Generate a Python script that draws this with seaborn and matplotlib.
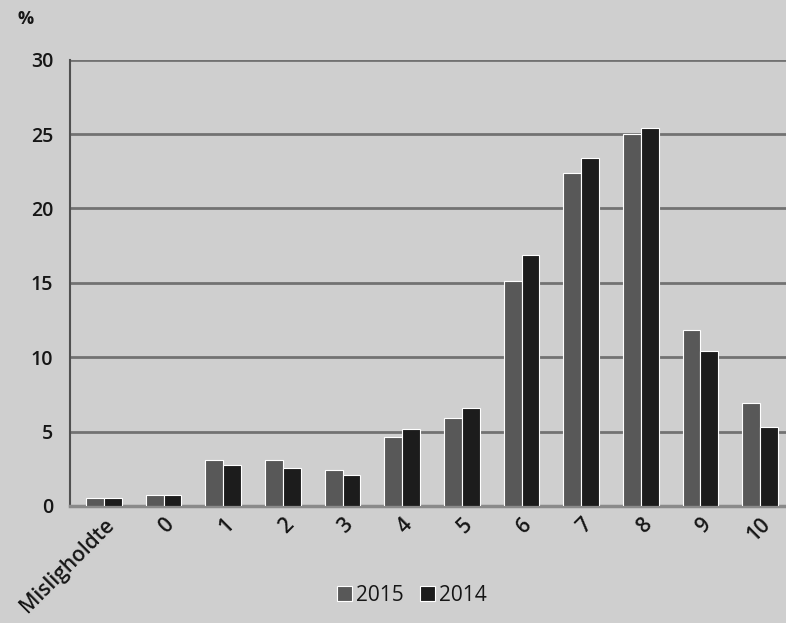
import pandas as pd
import matplotlib.pyplot as plt
import seaborn as sns

# --- DATA ---
categories = ['Misligholdte', '0', '1', '2', '3', '4', '5', '6', '7', '8', '9', '10']
values_2015 = [0.5, 0.7, 3.1, 3.1, 2.4, 4.6, 5.9, 15.1, 22.4, 25.0, 11.8, 6.9]
values_2014 = [0.5, 0.7, 2.75, 2.55, 2.1, 5.2, 6.6, 16.9, 23.4, 25.4, 10.4, 5.3]
years = ['2015', '2014']

df = pd.DataFrame({
    'kategori': categories * 2,
    'aar': [years[0]] * len(categories) + [years[1]] * len(categories),
    'andel': values_2015 + values_2014,
})

# --- STYLE ---
sns.set_style('white')
plt.rcParams['font.family'] = ['Open Sans', 'DejaVu Sans']
bg = '#cfcfcf'
txt = '#161616'

fig = plt.figure(figsize=(7.86, 6.23), dpi=100, facecolor=bg)
ax = fig.add_axes([0.089, 0.188, 0.916, 0.716], facecolor=bg)

sns.barplot(
    data=df, x='kategori', y='andel', hue='aar', hue_order=years,
    order=categories, palette=['#585858', '#1c1c1c'], width=0.6,
    edgecolor='white', linewidth=0.8, ax=ax, zorder=3
)

ax.set_ylim(0, 30)
ax.set_xlim(-0.57, 11.5)
ax.set_yticks(range(0, 31, 5))
ax.yaxis.grid(True, color='#727272', linewidth=2)
ax.set_axisbelow(True)
for s in ['top', 'right']:
    ax.spines[s].set_visible(False)
ax.spines['left'].set_color('#505050')
ax.spines['left'].set_linewidth(1.5)
ax.spines['bottom'].set_color('#8a8a8a')
ax.spines['bottom'].set_linewidth(2.5)

ax.set_xlabel('')
ax.set_ylabel('')
ax.tick_params(axis='y', labelsize=14, length=0, pad=12, colors=txt)
ax.tick_params(axis='x', labelsize=15, length=0, pad=6, colors=txt)
plt.setp(ax.get_xticklabels(), rotation=45, ha='right', rotation_mode='anchor')
plt.setp(ax.get_xticklabels() + ax.get_yticklabels(), fontweight='semibold')

fig.text(0.022, 0.962, '%', fontsize=13, color=txt, fontweight='bold')

leg = ax.legend(title=None, loc='upper center', bbox_to_anchor=(0.475, -0.135), ncol=2,
                frameon=False, fontsize=15, handlelength=0.7, handleheight=0.7,
                handletextpad=0.2, columnspacing=0.8)
for t in leg.get_texts():
    t.set_color(txt)

fig.savefig('out.png', dpi=100, facecolor=bg)
